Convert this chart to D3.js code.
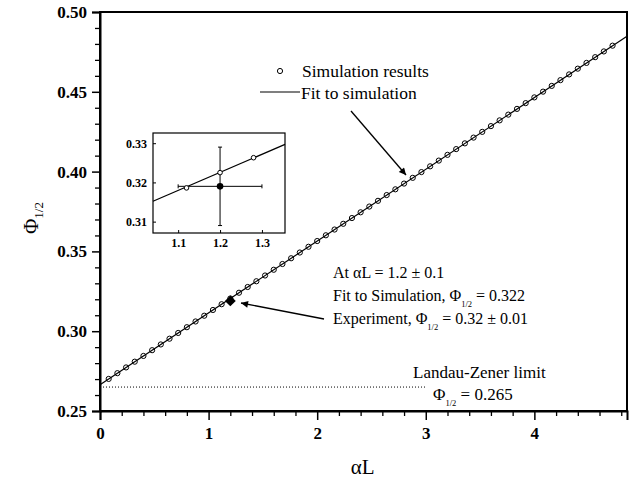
<!DOCTYPE html>
<html>
<head>
<meta charset="utf-8">
<script src="https://cdn.jsdelivr.net/npm/d3@7"></script>
<style>
  body { margin: 0; background: #fff; }
  svg { display: block; font-family: "Liberation Serif", "Times New Roman", serif; }
  svg text { font-family: "Liberation Serif", "Times New Roman", serif; }
  .tick-label { font-weight: bold; }
</style>
</head>
<body>
<svg id="chart" width="641" height="483"></svg>
<script>
// simulation points (alpha L, Phi_1/2)
const simX = [0.08, 0.16, 0.24, 0.32, 0.40, 0.48, 0.56, 0.64, 0.72, 0.80,
  0.88, 0.96, 1.04, 1.12, 1.20, 1.28, 1.36, 1.44, 1.52, 1.60,
  1.68, 1.76, 1.84, 1.92, 2.00, 2.08, 2.16, 2.24, 2.32, 2.40,
  2.48, 2.56, 2.64, 2.72, 2.80, 2.88, 2.96, 3.04, 3.12, 3.20,
  3.28, 3.36, 3.44, 3.52, 3.60, 3.68, 3.76, 3.84, 3.92, 4.00,
  4.08, 4.16, 4.24, 4.32, 4.40, 4.48, 4.56, 4.64, 4.72];
const simY = [0.2701, 0.2737, 0.2773, 0.2809, 0.2845, 0.2881, 0.2917, 0.2953, 0.2989, 0.3025,
  0.3061, 0.3097, 0.3133, 0.3169, 0.3205, 0.3241, 0.3277, 0.3313, 0.3349, 0.3385,
  0.3421, 0.3457, 0.3493, 0.3529, 0.3565, 0.3601, 0.3637, 0.3673, 0.3709, 0.3745,
  0.3781, 0.3817, 0.3853, 0.3889, 0.3925, 0.3961, 0.3997, 0.4033, 0.4069, 0.4105,
  0.4141, 0.4177, 0.4213, 0.4249, 0.4285, 0.4321, 0.4357, 0.4393, 0.4429, 0.4465,
  0.4501, 0.4537, 0.4573, 0.4609, 0.4645, 0.4681, 0.4717, 0.4753, 0.4789];

// fit to simulation
const fitX = [0, 4.853];
const fitY = [0.2665, 0.4848];

// experiment
const expX = 1.2, expY = 0.319, expErrX = 0.1, expErrY = 0.01;

// Landau-Zener limit
const lzX = [0, 3.0];
const lzY = 0.265;

// inset data
const insetSimX = [1.12, 1.20, 1.28];
const insetSimY = [0.3186, 0.3225, 0.3263];
const insetFitX = [1.04, 1.355];
const insetFitY = [0.3152, 0.3297];

const xTicks = [0, 1, 2, 3, 4];
const yTicks = [0.25, 0.30, 0.35, 0.40, 0.45, 0.50];
const insetXTicks = [1.1, 1.2, 1.3];
const insetYTicks = [0.31, 0.32, 0.33];

const margin = { top: 12, right: 14, bottom: 72, left: 100 };
const svg = d3.select('#chart');
const W = +svg.attr('width'), H = +svg.attr('height');
const width = W - margin.left - margin.right;
const height = H - margin.top - margin.bottom;
const serif = '"Liberation Serif", "Times New Roman", serif';

const g = svg.append('g').attr('transform', `translate(${margin.left},${margin.top})`);

const x = d3.scaleLinear().domain([0, 4.853]).range([0, width]);
const y = d3.scaleLinear().domain([0.25, 0.50]).range([height, 0]);

// frame
g.append('rect').attr('width', width).attr('height', height)
  .attr('fill', 'none').attr('stroke', '#000').attr('stroke-width', 2);

// minor ticks
g.append('g').attr('transform', `translate(0,${height})`)
  .call(d3.axisBottom(x).tickValues(d3.range(0.2, 4.81, 0.2).filter(v => Math.abs(v - Math.round(v)) > 0.01)).tickSize(5).tickFormat(''))
  .call(a => a.select('.domain').remove())
  .call(a => a.selectAll('line').attr('stroke-width', 1.3));
g.append('g')
  .call(d3.axisLeft(y).tickValues(d3.range(0.26, 0.50, 0.01).filter(v => Math.abs(v * 20 - Math.round(v * 20)) > 0.01)).tickSize(5).tickFormat(''))
  .call(a => a.select('.domain').remove())
  .call(a => a.selectAll('line').attr('stroke-width', 1.3));

// major ticks
const xAxis = g.append('g').attr('transform', `translate(0,${height})`)
  .call(d3.axisBottom(x).tickValues(xTicks).tickSize(9).tickPadding(7).tickFormat(d3.format('d')));
xAxis.select('.domain').attr('stroke-width', 2);
xAxis.selectAll('line').attr('stroke-width', 1.5);
xAxis.selectAll('text').attr('class', 'tick-label')
  .style('font-family', serif).style('font-size', '17px').style('font-weight', 'bold').attr('fill', '#000');

const yAxis = g.append('g')
  .call(d3.axisLeft(y).tickValues(yTicks).tickSize(8).tickPadding(5).tickFormat(d3.format('.2f')));
yAxis.select('.domain').attr('stroke-width', 2);
yAxis.selectAll('line').attr('stroke-width', 1.5);
yAxis.selectAll('text').attr('class', 'tick-label')
  .style('font-family', serif).style('font-size', '17px').style('font-weight', 'bold').attr('fill', '#000');

// axis titles
svg.append('text').attr('x', margin.left + x(2.42)).attr('y', 474)
  .attr('text-anchor', 'middle').attr('font-size', 21).text('αL');
const yt = svg.append('text').attr('transform', 'translate(38,218) rotate(-90)')
  .attr('text-anchor', 'middle').attr('font-size', 21);
yt.append('tspan').text('Φ');
yt.append('tspan').attr('font-size', 13).attr('dy', 5).text('1/2');

// Landau-Zener dotted line
g.append('line')
  .attr('x1', x(lzX[0])).attr('x2', x(lzX[1]))
  .attr('y1', y(lzY)).attr('y2', y(lzY))
  .attr('stroke', '#000').attr('stroke-width', 1).attr('stroke-dasharray', '1,2');

// simulation circles then fit line over them
g.selectAll('.sim').data(simX.map((v, i) => [v, simY[i]])).join('circle')
  .attr('class', 'sim')
  .attr('cx', d => x(d[0])).attr('cy', d => y(d[1])).attr('r', 2.6)
  .attr('fill', '#fff').attr('stroke', '#000').attr('stroke-width', 1);

const line = d3.line().x(d => x(d[0])).y(d => y(d[1]));
g.append('path').datum(fitX.map((v, i) => [v, fitY[i]]))
  .attr('d', line).attr('fill', 'none').attr('stroke', '#000').attr('stroke-width', 1.2);

// experiment diamond
g.append('path')
  .attr('d', d3.symbol(d3.symbolDiamond2, 75)())
  .attr('transform', `translate(${x(expX)},${y(expY)})`)
  .attr('fill', '#000');

// arrows
const defs = svg.append('defs');
defs.append('marker').attr('id', 'arrow').attr('viewBox', '0 0 10 10')
  .attr('refX', 10).attr('refY', 5).attr('markerWidth', 9).attr('markerHeight', 7)
  .attr('markerUnits', 'userSpaceOnUse').attr('orient', 'auto')
  .append('path').attr('d', 'M0,0 L10,5 L0,10 Z').attr('fill', '#000');

svg.append('line').attr('x1', 351).attr('y1', 111).attr('x2', 406).attr('y2', 175)
  .attr('stroke', '#000').attr('stroke-width', 1.3).attr('marker-end', 'url(#arrow)');
svg.append('line').attr('x1', 324).attr('y1', 319).attr('x2', 241).attr('y2', 303)
  .attr('stroke', '#000').attr('stroke-width', 1.3).attr('marker-end', 'url(#arrow)');

// legend
svg.append('circle').attr('cx', 280).attr('cy', 71).attr('r', 2.6)
  .attr('fill', '#fff').attr('stroke', '#000');
svg.append('text').attr('x', 302).attr('y', 77).attr('font-size', 17.5).text('Simulation results');
svg.append('line').attr('x1', 260).attr('x2', 300).attr('y1', 92).attr('y2', 92)
  .attr('stroke', '#000').attr('stroke-width', 1.2);
svg.append('text').attr('x', 301).attr('y', 99).attr('font-size', 17.5).text('Fit to simulation');

// annotation text
function subText(xp, yp, before, after, fs) {
  const t = svg.append('text').attr('x', xp).attr('y', yp).attr('font-size', fs);
  t.append('tspan').text(before + 'Φ');
  t.append('tspan').attr('font-size', 8.5).attr('dy', 6).text('1/2');
  t.append('tspan').attr('dy', -6).text(after);
  return t;
}
svg.append('text').attr('x', 333).attr('y', 278).attr('font-size', 16).text('At αL = 1.2 ± 0.1');
subText(333, 301, 'Fit to Simulation, ', ' = 0.322', 16);
subText(333, 324, 'Experiment, ', ' = 0.32 ± 0.01', 16);
svg.append('text').attr('x', 413).attr('y', 378).attr('font-size', 17).text('Landau-Zener limit');
subText(433, 400, '', ' = 0.265', 17);

// inset
const ix = d3.scaleLinear().domain([1.04, 1.355]).range([153, 285]);
const iy = d3.scaleLinear().domain([0.3071, 0.3326]).range([233, 133]);
const inset = svg.append('g');
inset.append('rect').attr('x', 153).attr('y', 133).attr('width', 132).attr('height', 100)
  .attr('fill', '#fff').attr('stroke', '#000').attr('stroke-width', 1.2);

const ixAxis = inset.append('g').attr('transform', 'translate(0,233)')
  .call(d3.axisBottom(ix).tickValues(insetXTicks).tickSize(-3).tickPadding(5).tickFormat(d3.format('.1f')));
ixAxis.select('.domain').remove();
const iyAxis = inset.append('g').attr('transform', 'translate(153,0)')
  .call(d3.axisLeft(iy).tickValues(insetYTicks).tickSize(-3).tickPadding(6).tickFormat(d3.format('.2f')));
iyAxis.select('.domain').remove();
inset.selectAll('.tick text').attr('class', 'tick-label')
  .style('font-family', serif).style('font-size', '12px').style('font-weight', 'bold').attr('fill', '#000');

const iline = d3.line().x(d => ix(d[0])).y(d => iy(d[1]));
inset.append('path').datum(insetFitX.map((v, i) => [v, insetFitY[i]]))
  .attr('d', iline).attr('fill', 'none').attr('stroke', '#000').attr('stroke-width', 1.2);

// error bars
inset.append('line').attr('x1', ix(expX - expErrX)).attr('x2', ix(expX + expErrX))
  .attr('y1', iy(expY)).attr('y2', iy(expY)).attr('stroke', '#000').attr('stroke-width', 1);
inset.append('line').attr('x1', ix(expX)).attr('x2', ix(expX))
  .attr('y1', iy(expY - expErrY)).attr('y2', iy(expY + expErrY)).attr('stroke', '#000').attr('stroke-width', 1);
[expX - expErrX, expX + expErrX].forEach(v => inset.append('line')
  .attr('x1', ix(v)).attr('x2', ix(v)).attr('y1', iy(expY) - 2).attr('y2', iy(expY) + 2)
  .attr('stroke', '#000'));
[expY - expErrY, expY + expErrY].forEach(v => inset.append('line')
  .attr('x1', ix(expX) - 2).attr('x2', ix(expX) + 2).attr('y1', iy(v)).attr('y2', iy(v))
  .attr('stroke', '#000'));

inset.selectAll('.isim').data(insetSimX.map((v, i) => [v, insetSimY[i]])).join('circle')
  .attr('class', 'isim')
  .attr('cx', d => ix(d[0])).attr('cy', d => iy(d[1])).attr('r', 2.3)
  .attr('fill', '#fff').attr('stroke', '#000').attr('stroke-width', 1);
inset.append('circle').attr('cx', ix(expX)).attr('cy', iy(expY)).attr('r', 3.3).attr('fill', '#000');
</script>
</body>
</html>
